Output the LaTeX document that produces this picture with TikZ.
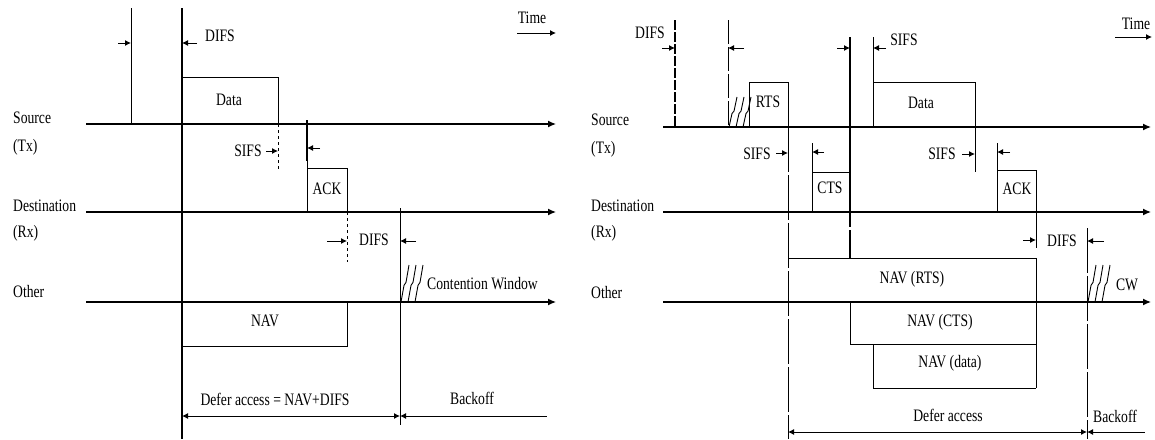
\documentclass[tikz,border=0pt]{standalone}
\usepackage{fontspec}
\setmainfont{Liberation Serif}[FakeStretch=0.78]
\usetikzlibrary{arrows.meta}
\newcommand\hatchmk[3]{\foreach \d in {0,7,14}{\draw[line width=0.9pt] (#1+\d,#2) -- ++(3,-0.45*#3) -- ++(2,-0.08*#3) -- ++(3,-0.47*#3);}}
\begin{document}
\begin{tikzpicture}[x=1pt,y=-1pt,
  lbl/.style={font=\fontsize{17.5}{18}\selectfont, inner sep=0pt},
  side/.style={lbl,anchor=west},
  axis/.style={line width=1.3pt,-{Latex[length=8pt,width=7pt]}},
  box/.style={line width=1pt},
  iv/.style={line width=1pt,-{Latex[length=6pt,width=6pt]}},
  span/.style={line width=1pt,{Latex[length=6pt,width=6pt]}-{Latex[length=6pt,width=6pt]}},
  lspan/.style={line width=1pt,{Latex[length=6pt,width=6pt]}-},
  longdash/.style={line width=1pt,dash pattern=on 45pt off 3pt},
]
\useasboundingbox (0,0) rectangle (1155,439);
%% ---------------- left diagram ----------------
\node[side] (ls1) at (13,118) {Source};
\node[side] (ls2) at (13,147) {(Tx)};
\node[side] (ld1) at (13,206) {Destination};
\node[side] (ld2) at (13,233) {(Rx)};
\node[side] (lo) at (13,292) {Other};
\draw[axis] (86,124) -- (556,124);
\draw[axis] (86,212) -- (556,212);
\draw[axis] (86,302) -- (556,302);
\draw[line width=2pt] (182,8) -- (182,439);
\draw[box] (131,8) -- (131,124);
\draw[iv] (118,43) -- (131,43);
\draw[iv] (197,43) -- (182,43);
\node[lbl] (ldifs1) at (220,36) {DIFS};
\draw[box] (182,77) -- (278,77) -- (278,124);
\node[lbl] (ldata) at (229,100) {Data};
\draw[box,dashed] (278,124) -- (278,170);
\node[lbl] (lsifs) at (248,151) {SIFS};
\draw[iv] (266,151) -- (278,151);
\draw[line width=2pt] (307,120) -- (307,161);
\draw[iv] (320,148) -- (307,148);
\draw[box] (307,160) -- (307,212);
\draw[box] (307,168) -- (347,168) -- (347,212);
\node[lbl] (lack) at (327,189) {ACK};
\draw[box,dashed] (347,212) -- (347,262);
\draw[iv] (327,241) -- (347,241);
\node[lbl] (ldifs2) at (374,240) {DIFS};
\draw[iv] (416,241) -- (400,241);
\draw[box] (400,208) -- (400,425);
\hatchmk{401}{302}{37}
\node[side] (lcw) at (427,284) {Contention Window};
\draw[box] (182,346) -- (347,346) -- (347,302);
\node[lbl] (lnav) at (265,321) {NAV};
\draw[span] (182,416) -- (400,416);
\node[lbl] (ldefer) at (275,399) {Defer access = NAV+DIFS};
\draw[lspan] (400,416) -- (547,416);
\node[lbl] (lback) at (472,398) {Backoff};
\node[lbl] (ltime) at (532,18) {Time};
\draw[iv] (517,33) -- (556,33);
%% ---------------- right diagram ----------------
\node[side] (rs1) at (591,120) {Source};
\node[side] (rs2) at (591,149) {(Tx)};
\node[side] (rd1) at (591,206) {Destination};
\node[side] (rd2) at (591,233) {(Rx)};
\node[side] (ro) at (591,293) {Other};
\draw[axis] (663,127) -- (1151,127);
\draw[axis] (663,212) -- (1151,212);
\draw[axis] (663,302) -- (1151,302);
\draw[line width=1.8pt,dash pattern=on 10pt off 2pt] (675,20) -- (675,127);
\draw[iv] (662,48) -- (675,48);
\node[lbl] (rdifs1) at (650,33) {DIFS};
\draw[line width=1pt,dash pattern=on 24pt off 3pt] (728,20) -- (728,127);
\draw[iv] (744,48) -- (728,48);
\hatchmk{729}{127}{30}
\draw[box] (749,127) -- (749,82) -- (788,82) -- (788,127);
\node[lbl] (rrts) at (768,102) {RTS};
\draw[longdash] (788,127) -- (788,439);
\node[lbl] (rsifs1) at (757,154) {SIFS};
\draw[iv] (776,153) -- (788,153);
\draw[box] (812,143) -- (812,212);
\draw[box] (812,172) -- (850,172);
\draw[iv] (824,152) -- (812,152);
\node[lbl] (rcts) at (830,188) {CTS};
\draw[line width=1.1pt,dash pattern=on 190pt off 3pt] (850,37) -- (850,258);
\draw[iv] (837,48) -- (850,48);
\draw[box] (873,37) -- (873,127);
\draw[iv] (886,48) -- (873,48);
\node[lbl] (rsifs2) at (904,40) {SIFS};
\draw[box] (873,82) -- (975,82) -- (975,172);
\node[lbl] (rdata) at (921,103) {Data};
\draw[iv] (962,154) -- (975,154);
\node[lbl] (rsifs3) at (942,154) {SIFS};
\draw[box] (997,143) -- (997,212);
\draw[box] (997,170) -- (1036,170) -- (1036,248);
\draw[iv] (1010,152) -- (997,152);
\node[lbl] (rack) at (1017,189) {ACK};
\draw[iv] (1023,240) -- (1036,240);
\node[lbl] (rdifs2) at (1062,241) {DIFS};
\draw[iv] (1104,241) -- (1087,241);
\draw[longdash] (1087,228) -- (1087,439);
\hatchmk{1088}{302}{37}
\node[lbl] (rcw) at (1127,285) {CW};
\draw[box] (788,258) -- (1036,258) -- (1036,388);
\draw[box] (850,302) -- (850,344) -- (1036,344);
\draw[box] (873,344) -- (873,388) -- (1036,388);
\node[lbl] (rnav1) at (912,279) {NAV (RTS)};
\node[lbl] (rnav2) at (940,322) {NAV (CTS)};
\node[lbl] (rnav3) at (950,363) {NAV (data)};
\draw[span] (788,432) -- (1087,432);
\node[lbl] (rdefer) at (948,415) {Defer access};
\draw[lspan] (1087,432) -- (1145,432);
\node[lbl] (rback) at (1115,416) {Backoff};
\node[lbl] (rtime) at (1136,24) {Time};
\draw[iv] (1115,37) -- (1152,37);
\end{tikzpicture}
\end{document}
